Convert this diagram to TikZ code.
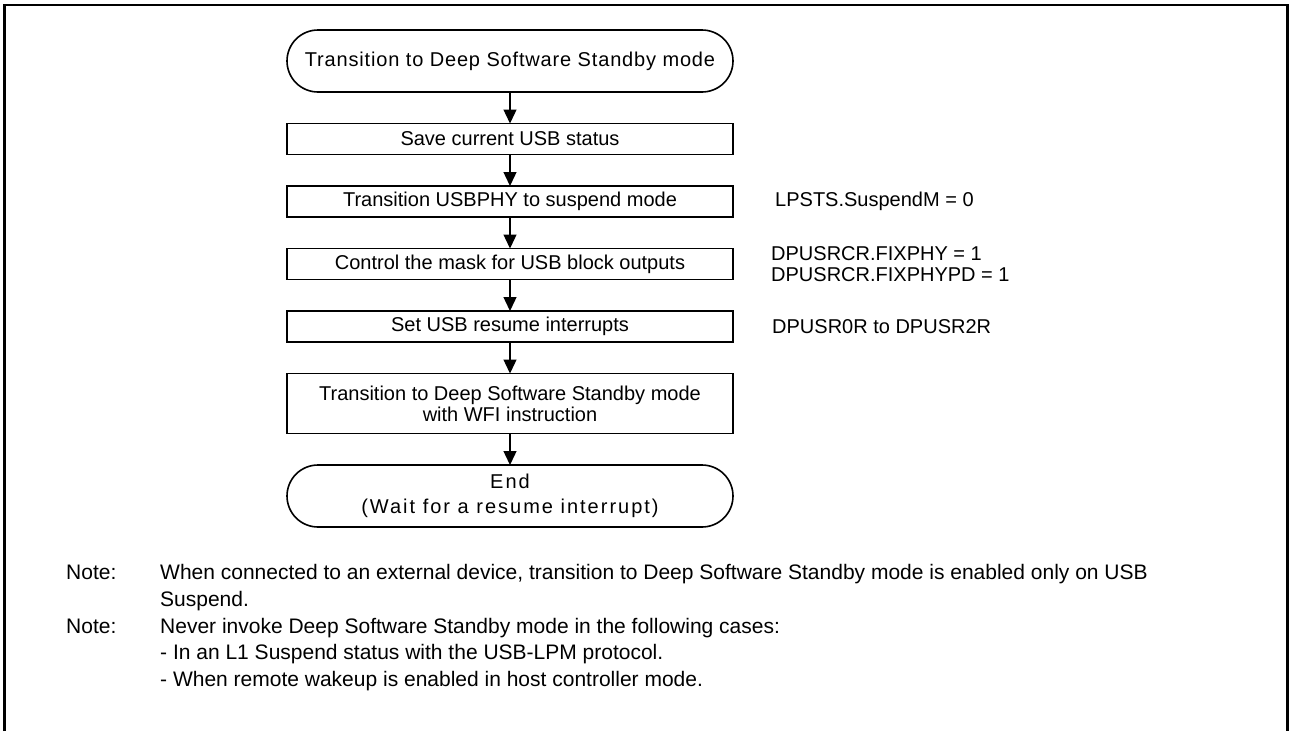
\documentclass[tikz,border=0pt]{standalone}
\usepackage{fontspec}
\setmainfont{Liberation Sans}
\newfontfamily\trackedfont[LetterSpace=4.2]{Liberation Sans}
\newfontfamily\widefont[LetterSpace=10]{Liberation Sans}
\usetikzlibrary{positioning, arrows.meta}

\begin{document}
\begin{tikzpicture}[
    x=1pt, y=1pt,
    node distance=31.5pt,
    terminal/.style={rectangle, draw=black, line width=1.6pt, rounded corners=31pt, minimum width=446pt, minimum height=62pt, inner sep=0pt, outer sep=0pt, align=center},
    process/.style={rectangle, draw=black, line width=1.8pt, minimum width=446pt, minimum height=31pt, inner sep=0pt, outer sep=0pt, align=center, font=\fontsize{20}{21}\selectfont},
    flow/.style={-{Triangle[length=14pt, width=13pt]}, line width=1.4pt},
    regnote/.style={inner sep=0pt, align=left, font=\fontsize{20}{21}\selectfont},
    notelbl/.style={inner sep=0pt, anchor=base west, font=\fontsize{21}{26.75}\selectfont},
    notebody/.style={inner sep=0pt, anchor=base west, align=left, font=\fontsize{21}{26.75}\selectfont}
]
\useasboundingbox (0,0) rectangle (1290,-731);

% Frame
\draw[line width=2.5pt] (4.5,-731) -- (4.5,-5) -- (1287.5,-5) -- (1287.5,-731);

% Nodes
\node[terminal, font=\fontsize{20}{21}\trackedfont] (start) at (510,-61) {Transition to Deep Software Standby mode};
\node[process, below=of start] (save) {Save current USB status};
\node[process, below=of save] (phy) {Transition USBPHY to suspend mode};
\node[process, below=of phy] (mask) {Control the mask for USB block outputs};
\node[process, below=of mask] (resume) {Set USB resume interrupts};
\node[process, below=of resume, minimum height=60pt] (wfi) {Transition to Deep Software Standby mode\\with WFI instruction};
\node[terminal, below=of wfi, font=\fontsize{20}{25}\widefont] (end) {End\\(Wait for a resume interrupt)};

% Register settings
\node[regnote, right=42pt of phy] (lpsts) {LPSTS.SuspendM = 0};
\node[regnote, right=38pt of mask] (fixphy) {DPUSRCR.FIXPHY = 1\\DPUSRCR.FIXPHYPD = 1};
\node[regnote, right=39pt of resume] (dpusr) {DPUSR0R to DPUSR2R};

% Arrows
\draw[flow] (start.south) -- (save.north);
\draw[flow] (save.south) -- (phy.north);
\draw[flow] (phy.south) -- (mask.north);
\draw[flow] (mask.south) -- (resume.north);
\draw[flow] (resume.south) -- (wfi.north);
\draw[flow] (wfi.south) -- (end.north);

% Notes (multi-line nodes sit on their last baseline)
\node[notelbl] (note1) at (66,-579.5) {Note:};
\node[notebody] (text1) at (160,-606.25) {When connected to an external device, transition to Deep Software Standby mode is enabled only on USB\\Suspend.};
\node[notelbl] (note2) at (66,-633) {Note:};
\node[notebody] (text2) at (160,-686.5) {Never invoke Deep Software Standby mode in the following cases:\\- In an L1 Suspend status with the USB-LPM protocol.\\- When remote wakeup is enabled in host controller mode.};

\end{tikzpicture}
\end{document}
